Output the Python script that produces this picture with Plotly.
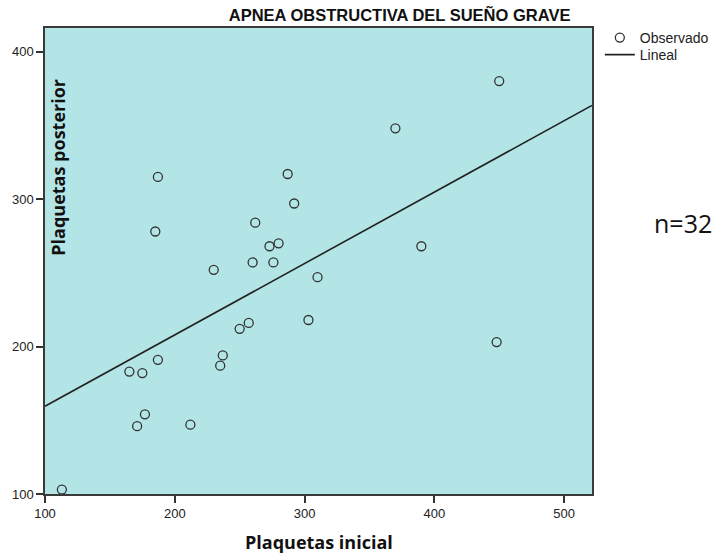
import plotly.graph_objects as go

# Observed platelet counts: initial (x) vs posterior (y)
plaquetas_inicial = [113, 165, 171, 175, 177, 185, 187, 187, 212, 230, 235, 237,
                     250, 257, 260, 262, 273, 276, 280, 287, 292, 303, 310, 370,
                     390, 448, 450]
plaquetas_posterior = [103, 183, 146, 182, 154, 278, 315, 191, 147, 252, 187, 194,
                       212, 216, 257, 284, 268, 257, 270, 317, 297, 218, 247, 348,
                       268, 203, 380]

# Linear fit drawn across the full x range
lineal_x = [100, 521.5]
lineal_y = [159.5, 363.5]

x_ticks = [100, 200, 300, 400, 500]
y_ticks = [100, 200, 300, 400]

W, H = 726, 556
ML, MR, MT, MB = 40, 127, 28, 62
PW, PH = W - ML - MR, H - MT - MB


def px_x(px):
    return (px - ML) / PW


def px_y(py):
    return (MT + PH - py) / PH


tick_font = dict(family="Liberation Sans, Arial, sans-serif", size=13, color="#222")
title_font = dict(family="Open Sans, Liberation Sans, sans-serif", size=18, color="#111")
legend_font = dict(family="Liberation Sans, Arial, sans-serif", size=14, color="#222")

fig = go.Figure()
fig.add_trace(go.Scatter(
    x=plaquetas_inicial, y=plaquetas_posterior, mode="markers", name="Observado",
    marker=dict(symbol="circle-open", size=9, color="#333", line=dict(width=1.3)),
    legend="legend",
))
fig.add_trace(go.Scatter(
    x=lineal_x, y=lineal_y, mode="lines", name="Lineal",
    line=dict(color="#222", width=1.6),
    legend="legend2",
))

axis_common = dict(
    showgrid=False, zeroline=False, showline=True, mirror=True,
    linecolor="#3a3a3a", linewidth=1.5, ticks="outside", ticklen=7,
    tickwidth=2, tickcolor="#333", tickfont=tick_font,
)
fig.update_xaxes(range=[100, 521.5], tickvals=x_ticks, **axis_common)
fig.update_yaxes(range=[100, 416], tickvals=y_ticks, **axis_common)

legend_common = dict(xanchor="left", yanchor="top", font=legend_font,
                     bgcolor="rgba(0,0,0,0)", itemwidth=30)

fig.update_layout(
    width=W, height=H,
    margin=dict(l=ML, r=MR, t=MT, b=MB),
    paper_bgcolor="white",
    plot_bgcolor="#B3E5E6",
    title=dict(
        text="<b>APNEA OBSTRUCTIVA DEL SUEÑO GRAVE</b>",
        x=399.6 / W, xref="container", xanchor="center",
        y=1 - 15.5 / H, yref="container", yanchor="middle",
        font=dict(family="Liberation Sans, Arial, sans-serif", size=16.5, color="#111"),
    ),
    legend=dict(x=px_x(607), y=px_y(22), **legend_common),
    legend2=dict(x=px_x(607), y=px_y(39), **legend_common),
    showlegend=True,
    annotations=[
        dict(text="<b>Plaquetas inicial</b>", xref="paper", yref="paper",
             x=0.5, y=px_y(541.5), xanchor="center", yanchor="middle",
             showarrow=False, font=title_font),
        dict(text="<b>Plaquetas posterior</b>", xref="paper", yref="paper",
             x=px_x(53), y=px_y(167), xanchor="center", yanchor="middle",
             textangle=-90, showarrow=False, font=title_font),
        dict(text="n=32", xref="paper", yref="paper",
             x=px_x(691.5), y=px_y(223.3), xanchor="center", yanchor="middle",
             showarrow=False,
             font=dict(family="Open Sans, Noto Sans, sans-serif", size=25, color="#111")),
    ],
)

fig.write_html("out.html")
